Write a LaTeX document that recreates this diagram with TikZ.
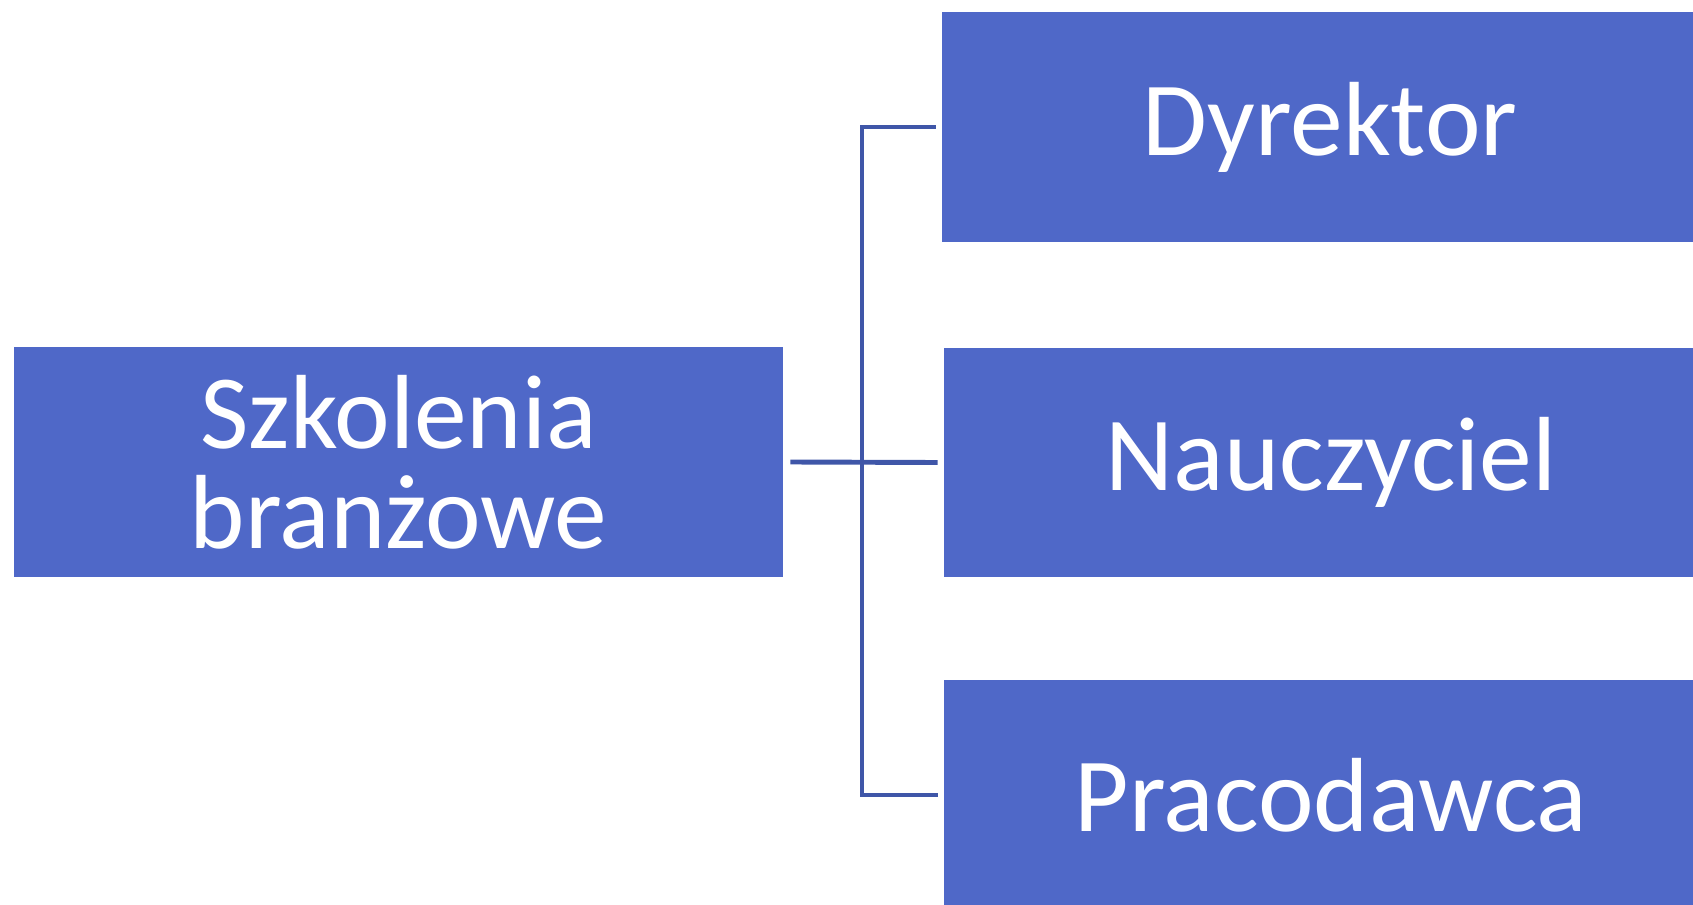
\documentclass[tikz,border=0pt]{standalone}
\usepackage{fontspec}
\setmainfont{Carlito}
\usepackage{tikz}
\usetikzlibrary{calc}
\definecolor{boxblue}{RGB}{79,104,200}
\definecolor{lineblue}{RGB}{63,86,168}

\begin{document}
\begin{tikzpicture}[x=0.02cm, y=-0.02cm,
        tile/.style  = {fill=boxblue, text=white, inner sep=0pt, align=center,
                        minimum height=4.6cm, font=\fontsize{60}{57}\selectfont},
        link/.style  = {draw=lineblue, line width=2.8pt}]
            \useasboundingbox (0,0) rectangle (1693,905);
            % boxes
            \node [tile, minimum width=15.38cm] (szk) at (398.5,462) {Szkolenia\\branżowe};
            \node [tile, minimum width=15.52cm] (dyr) at (1330,127)  {Dyrektor};
            \node [tile, minimum width=15.48cm] (nau) at (1331,462.5) {Nauczyciel};
            \node [tile, minimum width=15.48cm] (pra) at (1331,795)  {Pracodawca};
            % connectors
            \coordinate (hub) at (862,462);
            \draw [link] ([xshift=7*0.02cm]szk.east) -- ([xshift=-6*0.02cm]nau.west);
            \draw [link] ([xshift=-6*0.02cm]dyr.west) -| (hub)
                                                      |- ([xshift=-6*0.02cm]pra.west);
        \end{tikzpicture}
\end{document}
